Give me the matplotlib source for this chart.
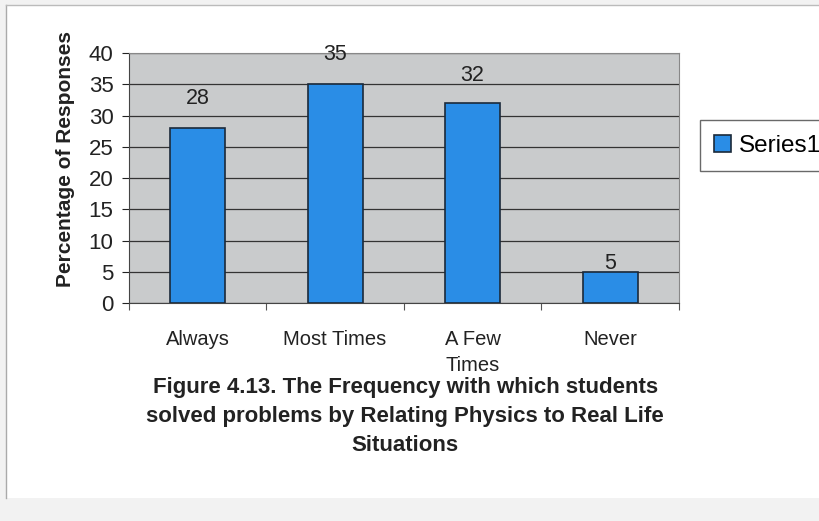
import numpy as np
import matplotlib.pyplot as plt
from matplotlib.patches import Rectangle

categories = ['Always', 'Most Times', 'A Few\nTimes', 'Never']
values = [28, 35, 32, 5]
yticks = [0, 5, 10, 15, 20, 25, 30, 35, 40]

plt.rcParams['font.family'] = ['Liberation Sans', 'DejaVu Sans']

fig = plt.figure(figsize=(8.2, 5.21), dpi=100)
fig.patch.set_facecolor('#f2f2f2')
fig.patches.append(Rectangle((0.007, 0.045), 0.993, 0.945, transform=fig.transFigure,
                             facecolor='white', edgecolor='none', zorder=-1))
fig.add_artist(plt.Line2D([0.007, 0.007], [0.045, 0.99], color='#aaaaaa', lw=1.0))
fig.add_artist(plt.Line2D([0.007, 1.0], [0.99, 0.99], color='#bbbbbb', lw=1.0))

ax = fig.add_axes([0.157, 0.418, 0.671, 0.48])
ax.set_facecolor('#c9cbcc')
x = np.arange(len(categories))
ax.bar(x, values, width=0.4, color='#2a8de6', edgecolor='#1b2a3a', lw=1.2, zorder=3, label='Series1')
offsets = [4.8, 4.8, 4.5, 1.4]
for xi, v, off in zip(x, values, offsets):
    ax.text(xi, v + off, str(v), ha='center', va='center', fontsize=15.5, color='#222222')

ax.set_xlim(-0.5, len(categories) - 0.5)
ax.set_ylim(0, 40)
ax.set_yticks(yticks)
ax.yaxis.grid(True, color='#333333', lw=0.9)
ax.set_axisbelow(True)
ax.set_xticks(np.arange(len(categories) + 1) - 0.5)
ax.set_xticklabels([])
ax.set_xticks(x, minor=True)
ax.set_xticklabels(categories, minor=True, fontsize=14.5, color='#222222', va='top', linespacing=1.5)
ax.tick_params(axis='x', which='minor', length=0, pad=19)
ax.tick_params(axis='x', which='major', length=5, color='#555555')
ax.tick_params(axis='y', labelsize=16, colors='#222222', length=5, pad=6)
for s in ['top', 'right']:
    ax.spines[s].set_color('#888888')
for s in ['left', 'bottom']:
    ax.spines[s].set_color('#444444')
ax.set_ylabel('Percentage of Responses', fontsize=15, fontweight='bold', color='#222222')
ax.yaxis.set_label_coords(-0.098, 0.575)

ax.legend(loc='upper left', bbox_to_anchor=(1.038, 0.732), borderaxespad=0, fontsize=17.5,
          frameon=True, fancybox=False, edgecolor='#444444', handlelength=0.7, handleheight=0.7,
          handletextpad=0.3, borderpad=0.6)

fig.text(0.494, 0.2, 'Figure 4.13. The Frequency with which students\nsolved problems by Relating Physics to Real Life\nSituations',
         ha='center', va='center', fontsize=16, fontweight='bold', linespacing=1.5, color='#222222')

fig.savefig('out.png', dpi=100)
